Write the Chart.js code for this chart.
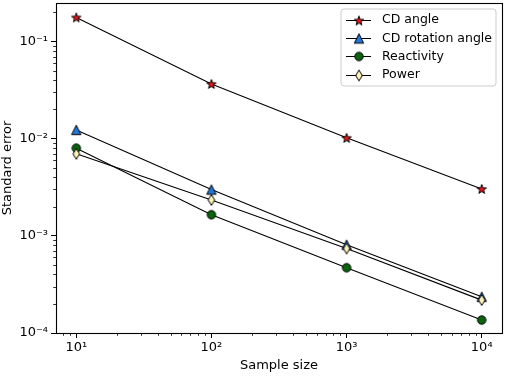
<!DOCTYPE html>
<html>
<head>
<meta charset="utf-8">
<script src="https://cdn.jsdelivr.net/npm/chart.js@4/dist/chart.umd.min.js"></script>
<style>
  html, body { margin: 0; padding: 0; background: #ffffff; }
  #wrap { width: 505px; height: 376px; }
</style>
</head>
<body>
<div id="wrap"><canvas id="c" width="505" height="376"></canvas></div>
<script>
// ---- data ----
const sampleSizes = [10, 100, 1000, 10000];
const seriesNames = ['CD angle', 'CD rotation angle', 'Reactivity', 'Power'];
const cdAngle = [0.177, 0.0366, 0.0102, 0.00304];
const cdRotationAngle = [0.0123, 0.00299, 0.00081, 0.000236];
const reactivity = [0.00798, 0.00165, 0.00047, 0.000136];
const power = [0.00698, 0.00234, 0.00074, 0.000218];
const xTickValues = [10, 100, 1000, 10000];
const xTickLabels = ['10\u00B9', '10\u00B2', '10\u00B3', '10\u2074'];
const yTickValues = [1e-4, 1e-3, 1e-2, 1e-1];
const yTickLabels = ['10\u207B\u2074', '10\u207B\u00B3', '10\u207B\u00B2', '10\u207B\u00B9'];
const xLabel = 'Sample size';
const yLabel = 'Standard error';

// ---- marker images ----
function makeMarker(kind, fill) {
  const s = 14, c = s / 2;
  const cv = document.createElement('canvas');
  cv.width = s; cv.height = s;
  const g = cv.getContext('2d');
  g.beginPath();
  if (kind === 'star') {
    const R = 4.9, r = 2.0;
    for (let i = 0; i < 10; i++) {
      const rad = i % 2 === 0 ? R : r;
      const a = -Math.PI / 2 + i * Math.PI / 5;
      const px = c + rad * Math.cos(a), py = c + rad * Math.sin(a) + 0.5;
      if (i === 0) g.moveTo(px, py); else g.lineTo(px, py);
    }
    g.closePath();
  } else if (kind === 'triangle') {
    const h = 4.7;
    g.moveTo(c, c - h);
    g.lineTo(c - h, c + h);
    g.lineTo(c + h, c + h);
    g.closePath();
  } else if (kind === 'circle') {
    g.arc(c, c, 4.2, 0, Math.PI * 2);
  } else if (kind === 'diamond') {
    g.moveTo(c, c - 5.4);
    g.lineTo(c + 3.3, c);
    g.lineTo(c, c + 5.4);
    g.lineTo(c - 3.3, c);
    g.closePath();
  }
  g.fillStyle = fill;
  g.fill();
  g.lineWidth = 1;
  g.strokeStyle = '#000000';
  g.stroke();
  return cv;
}
const markers = [
  makeMarker('star', '#e8141a'),
  makeMarker('triangle', '#1f78d6'),
  makeMarker('circle', '#0b650f'),
  makeMarker('diamond', '#fdf2bb')
];
const seriesValues = [cdAngle, cdRotationAngle, reactivity, power];

const datasets = seriesValues.map((vals, i) => ({
  label: seriesNames[i],
  data: sampleSizes.map((x, j) => ({ x: x, y: vals[j] })),
  borderColor: '#000000',
  borderWidth: 1.1,
  pointStyle: markers[i],
  pointRadius: 5,
  pointHoverRadius: 5,
  fill: false,
  tension: 0,
  order: 3 - i
}));

// minor ticks + frame + legend
const decorPlugin = {
  id: 'decor',
  afterDraw(chart) {
    const ctx = chart.ctx;
    const a = chart.chartArea;
    const xs = chart.scales.x, ys = chart.scales.y;
    ctx.save();
    // minor ticks
    ctx.strokeStyle = '#000';
    ctx.lineWidth = 0.8;
    ctx.beginPath();
    for (let d = 0; d <= 4; d++) {
      for (let k = 2; k <= 9; k++) {
        const v = k * Math.pow(10, d);
        if (v < xs.min || v > xs.max) continue;
        const px = Math.round(xs.getPixelForValue(v)) + 0.5;
        ctx.moveTo(px, a.bottom);
        ctx.lineTo(px, a.bottom + 2.8);
      }
    }
    for (let d = -5; d <= 0; d++) {
      for (let k = 2; k <= 9; k++) {
        const v = k * Math.pow(10, d);
        if (v < ys.min || v > ys.max) continue;
        const py = Math.round(ys.getPixelForValue(v)) + 0.5;
        ctx.moveTo(a.left, py);
        ctx.lineTo(a.left - 2.8, py);
      }
    }
    ctx.stroke();
    // frame
    ctx.lineWidth = 1.1;
    ctx.strokeRect(Math.round(a.left) + 0.5, Math.round(a.top) + 0.5,
                   Math.round(a.right - a.left), Math.round(a.bottom - a.top));
    // legend
    const bw = 155, bh = 77;
    const bx = a.right - 6 - bw, by = a.top + 6;
    const rr = 3;
    ctx.beginPath();
    ctx.moveTo(bx + rr, by);
    ctx.lineTo(bx + bw - rr, by);
    ctx.quadraticCurveTo(bx + bw, by, bx + bw, by + rr);
    ctx.lineTo(bx + bw, by + bh - rr);
    ctx.quadraticCurveTo(bx + bw, by + bh, bx + bw - rr, by + bh);
    ctx.lineTo(bx + rr, by + bh);
    ctx.quadraticCurveTo(bx, by + bh, bx, by + bh - rr);
    ctx.lineTo(bx, by + rr);
    ctx.quadraticCurveTo(bx, by, bx + rr, by);
    ctx.closePath();
    ctx.fillStyle = 'rgba(255,255,255,0.8)';
    ctx.fill();
    ctx.strokeStyle = '#cccccc';
    ctx.lineWidth = 1;
    ctx.stroke();
    ctx.font = '12.5px "DejaVu Sans"';
    ctx.textBaseline = 'middle';
    ctx.textAlign = 'left';
    seriesNames.forEach((name, i) => {
      const cy = by + 10.5 + i * 18.4;
      ctx.beginPath();
      ctx.strokeStyle = '#000';
      ctx.lineWidth = 1;
      ctx.moveTo(bx + 5, Math.round(cy) + 0.5);
      ctx.lineTo(bx + 30, Math.round(cy) + 0.5);
      ctx.stroke();
      const m = markers[i];
      ctx.drawImage(m, Math.round(bx + 17.5 - m.width / 2), Math.round(cy) + 0.5 - m.height / 2);
      ctx.fillStyle = '#000';
      ctx.fillText(name, bx + 41, cy + 0.5);
    });
    ctx.restore();
  }
};

const tickFont = { family: 'DejaVu Sans', size: 13 };

new Chart(document.getElementById('c'), {
  type: 'line',
  data: { datasets: datasets },
  plugins: [decorPlugin],
  options: {
    responsive: false,
    devicePixelRatio: 1,
    animation: false,
    layout: { autoPadding: false, padding: { left: 0, right: 3, top: 3, bottom: 0 } },
    plugins: { legend: { display: false }, tooltip: { enabled: false } },
    scales: {
      x: {
        type: 'logarithmic',
        min: Math.pow(10, 0.85),
        max: Math.pow(10, 4.15),
        afterBuildTicks(scale) { scale.ticks = xTickValues.map(v => ({ value: v })); },
        afterFit(scale) { scale.height = 43; scale.paddingLeft = 0; scale.paddingRight = 0; },
        ticks: {
          color: '#000', font: tickFont, padding: 2, maxRotation: 0, autoSkip: false,
          callback(value, index) { return xTickLabels[index]; }
        },
        grid: { drawOnChartArea: false, drawTicks: true, tickLength: 5, tickColor: '#000', tickWidth: 1 },
        border: { display: false },
        title: { display: true, text: xLabel, color: '#000', font: { family: 'DejaVu Sans', size: 13 }, padding: { top: 0, bottom: 3 } }
      },
      y: {
        type: 'logarithmic',
        min: 1e-4,
        max: 0.249,
        afterBuildTicks(scale) { scale.ticks = yTickValues.map(v => ({ value: v })); },
        afterFit(scale) { scale.width = 56; scale.paddingTop = 0; scale.paddingBottom = 0; },
        ticks: {
          color: '#000', font: tickFont, padding: 3, autoSkip: false,
          callback(value, index) { return yTickLabels[index]; }
        },
        grid: { drawOnChartArea: false, drawTicks: true, tickLength: 5, tickColor: '#000', tickWidth: 1 },
        border: { display: false },
        title: { display: true, text: yLabel, color: '#000', font: { family: 'DejaVu Sans', size: 13 }, padding: { top: 0, bottom: 0 } }
      }
    }
  }
});
</script>
</body>
</html>
